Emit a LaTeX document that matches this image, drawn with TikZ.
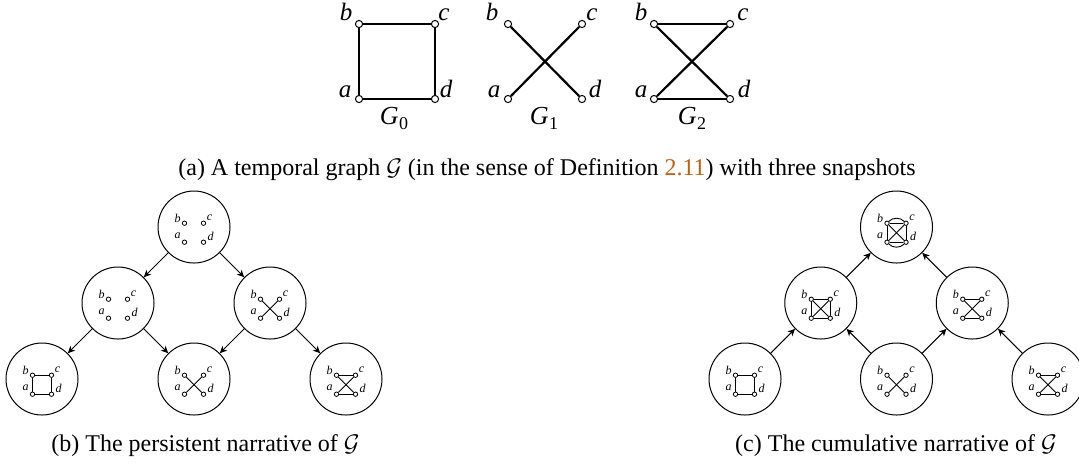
\documentclass[tikz,border=0pt]{standalone}
\usepackage{fontspec}
\setmainfont{Liberation Serif}
\usetikzlibrary{arrows.meta}
\definecolor{refcol}{rgb}{0.75,0.38,0.08}
\begin{document}
\begin{tikzpicture}[x=0.5pt,y=-0.5pt,
  bv/.style={circle,draw,fill=white,inner sep=0pt,minimum size=3.6pt,line width=0.5pt},
  be/.style={line width=1.1pt},
  bl/.style={font=\fontsize{12.5}{14}\selectfont\itshape,anchor=base,inner sep=0pt},
  gl/.style={font=\fontsize{13}{14}\selectfont\itshape,anchor=base,inner sep=0pt},
  sv/.style={circle,draw,fill=white,inner sep=0pt,minimum size=2.2pt,line width=0.4pt},
  se/.style={line width=0.45pt},
  sl/.style={font=\fontsize{6}{7}\selectfont\itshape,inner sep=0pt},
  big/.style={circle,draw,line width=0.5pt,minimum size=36pt,inner sep=0pt},
  arr/.style={-{Stealth[length=3.6pt,width=3.4pt,inset=1.1pt]},line width=0.5pt},
  captext/.style={font=\fontsize{12}{14}\selectfont,anchor=base,inner sep=0pt},
  pics/four/.style={code={
    \node[sv] (-b) at (-9.5,-9.5) {};
    \node[sv] (-c) at (9.5,-9.5) {};
    \node[sv] (-a) at (-9.5,9.5) {};
    \node[sv] (-d) at (9.5,9.5) {};
    \node[sl] (-lb) at (-16.5,-14.5) {b};
    \node[sl] (-lc) at (15.5,-15) {c};
    \node[sl] (-la) at (-16.5,3.5) {a};
    \node[sl] (-ld) at (16.5,3.5) {d};
  }}
]
\path[use as bounding box] (0,0) rectangle (1079,463);

% ---------- (a) three snapshots ----------
% G0
\node[bv] (g0b) at (359,24) {};
\node[bv] (g0c) at (435,24) {};
\node[bv] (g0a) at (359,99) {};
\node[bv] (g0d) at (435,99) {};
\draw[be] (g0a) -- (g0b);
\draw[be] (g0b) -- (g0c);
\draw[be] (g0c) -- (g0d);
\draw[be] (g0d) -- (g0a);
\node[bl] (l0b) at (346,20) {b};
\node[bl] (l0c) at (444,20) {c};
\node[bl] (l0a) at (345,97) {a};
\node[bl] (l0d) at (446,97) {d};
\node[gl] (G0) at (394,124) {G\kern0.3pt\raisebox{-2.6pt}{\fontsize{9}{9}\selectfont\upshape 0}};
% G1
\node[bv] (g1b) at (508,24) {};
\node[bv] (g1c) at (582,24) {};
\node[bv] (g1a) at (508,99) {};
\node[bv] (g1d) at (582,99) {};
\draw[be] (g1a) -- (g1c);
\draw[be] (g1b) -- (g1d);
\node[bl] (l1b) at (492,20) {b};
\node[bl] (l1c) at (592,20) {c};
\node[bl] (l1a) at (494,97) {a};
\node[bl] (l1d) at (595,97) {d};
\node[gl] (G1) at (544,124) {G\kern0.3pt\raisebox{-2.6pt}{\fontsize{9}{9}\selectfont\upshape 1}};
% G2
\node[bv] (g2b) at (654,24) {};
\node[bv] (g2c) at (730,24) {};
\node[bv] (g2a) at (654,99) {};
\node[bv] (g2d) at (730,99) {};
\draw[be] (g2b) -- (g2c);
\draw[be] (g2a) -- (g2d);
\draw[be] (g2a) -- (g2c);
\draw[be] (g2b) -- (g2d);
\node[bl] (l2b) at (641,20) {b};
\node[bl] (l2c) at (743,20) {c};
\node[bl] (l2a) at (641,97) {a};
\node[bl] (l2d) at (744,97) {d};
\node[gl] (G2) at (692,124) {G\kern0.3pt\raisebox{-2.6pt}{\fontsize{9}{9}\selectfont\upshape 2}};

\node[captext] (capa) at (547,175) {(a) A temporal graph $\mathcal{G}$ (in the sense of Definition \textcolor{refcol}{2.11}) with three snapshots};

% ---------- (b) persistent narrative ----------
\node[big] (p02) at (194,227) {};
\node[big] (p01) at (118,303) {};
\node[big] (p12) at (270,303) {};
\node[big] (p00) at (42,379) {};
\node[big] (p11) at (194,379) {};
\node[big] (p22) at (346,379) {};
\pic (q02) at (194,232.7) {four};
\pic (q01) at (118,308.7) {four};
\pic (q12) at (270,308.7) {four};
\draw[se] (q12-a) -- (q12-c);
\draw[se] (q12-b) -- (q12-d);
\pic (q00) at (42,384.7) {four};
\draw[se] (q00-a) -- (q00-b);
\draw[se] (q00-b) -- (q00-c);
\draw[se] (q00-c) -- (q00-d);
\draw[se] (q00-d) -- (q00-a);
\pic (q11) at (194,384.7) {four};
\draw[se] (q11-a) -- (q11-c);
\draw[se] (q11-b) -- (q11-d);
\pic (q22) at (346,384.7) {four};
\draw[se] (q22-b) -- (q22-c);
\draw[se] (q22-a) -- (q22-d);
\draw[se] (q22-a) -- (q22-c);
\draw[se] (q22-b) -- (q22-d);
\draw[arr] (p02) -- (p01);
\draw[arr] (p02) -- (p12);
\draw[arr] (p01) -- (p00);
\draw[arr] (p01) -- (p11);
\draw[arr] (p12) -- (p11);
\draw[arr] (p12) -- (p22);
\node[captext] (capb) at (205.5,451) {(b) The persistent narrative of $\mathcal{G}$};

% ---------- (c) cumulative narrative ----------
\node[big] (c02) at (896.5,227) {};
\node[big] (c01) at (820.75,303) {};
\node[big] (c12) at (972.25,303) {};
\node[big] (c00) at (745,379) {};
\node[big] (c11) at (896.5,379) {};
\node[big] (c22) at (1048,379) {};
\pic (r02) at (896.5,232.7) {four};
\draw[se] (r02-a) -- (r02-b);
\draw[se] (r02-b) -- (r02-c);
\draw[se] (r02-c) -- (r02-d);
\draw[se] (r02-d) -- (r02-a);
\draw[se] (r02-a) -- (r02-c);
\draw[se] (r02-b) -- (r02-d);
\draw[se] (r02-b) to[bend left=45] (r02-c);
\draw[se] (r02-a) to[bend right=45] (r02-d);
\pic (r01) at (820.75,308.7) {four};
\draw[se] (r01-a) -- (r01-b);
\draw[se] (r01-b) -- (r01-c);
\draw[se] (r01-c) -- (r01-d);
\draw[se] (r01-d) -- (r01-a);
\draw[se] (r01-a) -- (r01-c);
\draw[se] (r01-b) -- (r01-d);
\pic (r12) at (972.25,308.7) {four};
\draw[se] (r12-b) -- (r12-c);
\draw[se] (r12-a) -- (r12-d);
\draw[se] (r12-a) -- (r12-c);
\draw[se] (r12-b) -- (r12-d);
\pic (r00) at (745,384.7) {four};
\draw[se] (r00-a) -- (r00-b);
\draw[se] (r00-b) -- (r00-c);
\draw[se] (r00-c) -- (r00-d);
\draw[se] (r00-d) -- (r00-a);
\pic (r11) at (896.5,384.7) {four};
\draw[se] (r11-a) -- (r11-c);
\draw[se] (r11-b) -- (r11-d);
\pic (r22) at (1048,384.7) {four};
\draw[se] (r22-b) -- (r22-c);
\draw[se] (r22-a) -- (r22-d);
\draw[se] (r22-a) -- (r22-c);
\draw[se] (r22-b) -- (r22-d);
\draw[arr] (c01) -- (c02);
\draw[arr] (c12) -- (c02);
\draw[arr] (c00) -- (c01);
\draw[arr] (c11) -- (c01);
\draw[arr] (c11) -- (c12);
\draw[arr] (c22) -- (c12);
\node[captext] (capc) at (896,451) {(c) The cumulative narrative of $\mathcal{G}$};
\end{tikzpicture}
\end{document}
